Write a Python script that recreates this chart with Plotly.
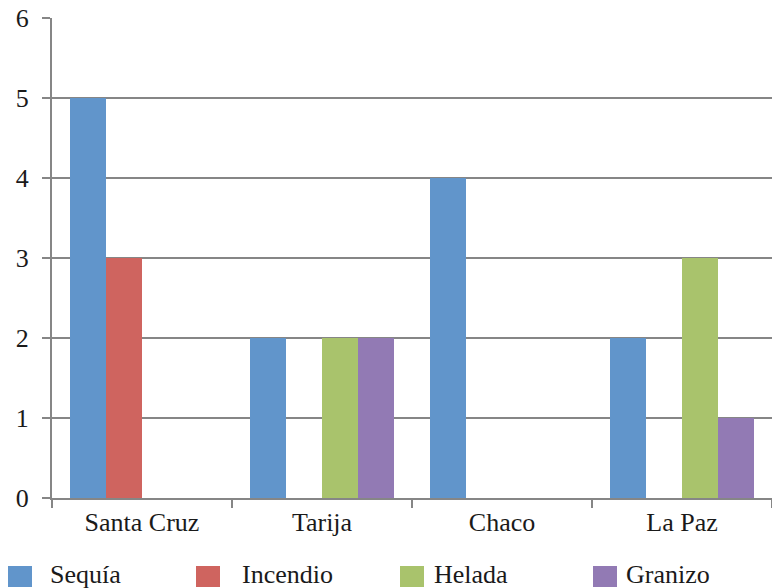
import plotly.graph_objects as go

# Data
regions = ["Santa Cruz", "Tarija", "Chaco", "La Paz"]
series_names = ["Sequía", "Incendio", "Helada", "Granizo"]
sequia = [5, 2, 4, 2]
incendio = [3, 0, 0, 0]
helada = [0, 2, 0, 3]
granizo = [0, 2, 0, 1]
y_ticks = [0, 1, 2, 3, 4, 5, 6]

colors = ["#6195CB", "#CF645F", "#A9C36C", "#927AB4"]
grid_color = "#868686"
font_family = "Liberation Serif, Times New Roman, serif"

W, H = 772, 588
M_L, M_R, M_T, M_B = 52, 0, 18, 90

fig = go.Figure()
for name, vals, col in zip(series_names, [sequia, incendio, helada, granizo], colors):
    fig.add_trace(go.Bar(
        x=regions, y=vals, name=name,
        marker=dict(color=col, line=dict(width=0)),
        showlegend=False,
    ))

# Legend row below the plot (swatch + label per series)
def px_x(p):
    return (p - M_L) / (W - M_L - M_R)

def px_y(p):
    return (H - M_B - p) / (H - M_T - M_B)

swatch_left = [8, 196, 400, 593]
label_left = [48, 240, 432, 624]
for name, col, sx, lx in zip(series_names, colors, swatch_left, label_left):
    fig.add_shape(type="rect", xref="paper", yref="paper",
                  x0=px_x(sx), x1=px_x(sx + 24), y0=px_y(587), y1=px_y(566),
                  fillcolor=col, line=dict(width=0))
    fig.add_annotation(xref="paper", yref="paper", x=px_x(lx), y=px_y(574),
                       text=name, showarrow=False, xanchor="left", yanchor="middle",
                       font=dict(family=font_family, size=26, color="#1a1a1a"))

fig.update_layout(
    width=W, height=H,
    margin=dict(l=M_L, r=M_R, t=M_T, b=M_B),
    paper_bgcolor="white", plot_bgcolor="white",
    barmode="group", bargap=0.2, bargroupgap=0,
    font=dict(family=font_family, size=26, color="#1a1a1a"),
    showlegend=False,
)
fig.update_yaxes(
    range=[0, 6], tickvals=y_ticks,
    showgrid=True, gridcolor=grid_color, gridwidth=2,
    showline=True, linecolor=grid_color, linewidth=2,
    ticks="outside", ticklen=8, tickwidth=2, tickcolor=grid_color,
    ticklabelstandoff=8, zeroline=False,
    tickfont=dict(size=26),
)
fig.update_xaxes(
    showline=True, linecolor=grid_color, linewidth=2,
    ticks="outside", tickson="boundaries", ticklen=8, tickwidth=2,
    tickcolor=grid_color, showgrid=False,
    tickfont=dict(size=26),
)

fig.write_html("out.html")
